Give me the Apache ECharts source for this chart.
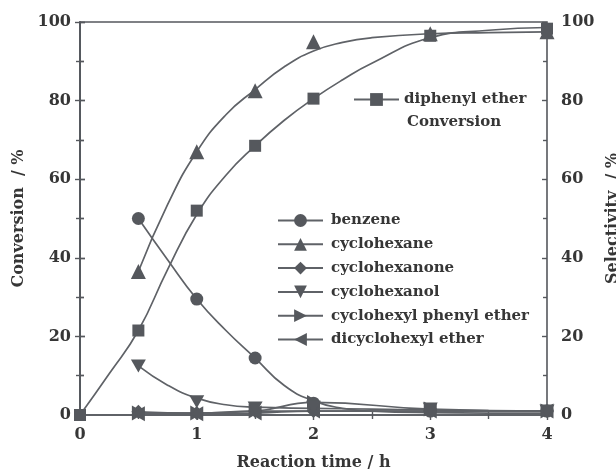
<!DOCTYPE html>
<html>
<head>
<meta charset="utf-8">
<script src="https://cdn.jsdelivr.net/npm/echarts@6/dist/echarts.min.js"></script>
<style>
  html, body { margin: 0; padding: 0; background: #fff; }
  #chart { width: 616px; height: 473px; }
</style>
</head>
<body>
<div id="chart"></div>
<script>
// Measured reaction times (h)
var conversionTime = [0, 0.5, 1, 1.5, 2, 3, 4];
var productTime = [0.5, 1, 1.5, 2, 3, 4];

// Diphenyl ether conversion (%)
var conversion = [0, 21.5, 52, 68.5, 80.5, 96.5, 98.3];

// Product selectivities (%)
var benzene = [50, 29.5, 14.5, 3, 1, 1];
var cyclohexane = [36.5, 67, 82.5, 95, 97, 97.5];
var cyclohexanone = [0.8, 0.5, 1, 1, 1, 1];
var cyclohexanol = [12.5, 3.4, 1.8, 2, 1.5, 1];
var cyclohexylPhenylEther = [0.5, 0.5, 1, 3.2, 1.5, 1];
var dicyclohexylEther = [0.3, 0.3, 0.5, 1, 1, 1];

// Fitted trend curves
var conversionFitTime = [0, 0.25, 0.5, 0.75, 1, 1.25, 1.5, 1.75, 2, 2.25, 2.5, 3, 3.5, 4];
var conversionFit = [0, 10.5, 21.5, 37, 51, 61, 68.5, 75, 80.5, 85.3, 89.5, 96, 97.9, 98.6];
var fitTime = [0.5, 0.75, 1, 1.25, 1.5, 1.75, 2, 2.25, 2.5, 3, 3.5, 4];
var cyclohexaneFit = [36.5, 53.5, 67, 76.4, 82.8, 88.6, 92.6, 94.8, 96, 97, 97.3, 97.5];
var benzeneFit = [50, 39.5, 29.5, 21.5, 14.5, 7.5, 3.6, 1.7, 1, 0.6, 0.5, 0.5];
var cyclohexanolFitTime = [0.5, 0.75, 1, 1.25, 1.5, 2, 2.5, 3, 3.5, 4];
var cyclohexanolFit = [12.5, 7.6, 4.3, 2.6, 2, 1.7, 1.5, 1.3, 1.1, 1];

var yTicks = [0, 20, 40, 60, 80, 100];
var xTicks = [0, 1, 2, 3, 4];

var GRAY = '#55585d';
var LINE = '#5f6267';
var TEXT = '#363636';
var FONT = '"DejaVu Serif", "Liberation Serif", serif';

var TRI_RIGHT = 'path://M0,0 L10,5 L0,10 Z';
var TRI_LEFT = 'path://M10,0 L0,5 L10,10 Z';
var TRI_DOWN = 'path://M0,0 L10,0 L5,10 Z';

function pairs(xs, ys) {
  return xs.map(function (x, i) { return [x, ys[i]]; });
}

// smooth curve; its markers are either drawn on it or by a separate scatter
function curve(name, xs, ys, symbol, size, yIndex, showMarks) {
  return {
    name: name,
    type: 'line',
    yAxisIndex: yIndex,
    data: pairs(xs, ys),
    smooth: 0.5,
    symbol: symbol,
    symbolSize: size,
    showSymbol: showMarks,
    showAllSymbol: true,
    lineStyle: { color: LINE, width: 1.7 },
    itemStyle: { color: GRAY, borderWidth: 0 },
    emphasis: { disabled: true },
    animation: false,
    z: 2
  };
}

function marks(name, xs, ys, symbol, size, yIndex) {
  return {
    name: name,
    type: 'scatter',
    yAxisIndex: yIndex,
    data: pairs(xs, ys),
    symbol: symbol,
    symbolSize: size,
    itemStyle: { color: GRAY, borderWidth: 0, opacity: 1 },
    emphasis: { disabled: true },
    animation: false,
    z: 4
  };
}

var tickLabel = { color: TEXT, fontFamily: FONT, fontWeight: 'bold', fontSize: 16 };
var nameText = { color: TEXT, fontFamily: FONT, fontWeight: 'bold', fontSize: 16 };
var axisLine = { show: true, lineStyle: { color: GRAY, width: 1.6 } };

function valueY(pos, withLabels, inside, name, labelMargin, nameGap) {
  return {
    type: 'value',
    position: pos,
    min: 0, max: 100, interval: 20,
    name: name || '',
    nameLocation: 'middle',
    nameGap: nameGap || 48,
    nameTextStyle: nameText,
    axisLine: inside ? { show: false } : axisLine,
    axisTick: { show: true, inside: inside, length: 5, lineStyle: { color: GRAY, width: 1.4 } },
    minorTick: { show: true, splitNumber: 2, length: 4, lineStyle: { color: GRAY, width: 1.4 } },
    axisLabel: withLabels ? Object.assign({ margin: labelMargin || 8, formatter: function (v) { return yTicks.indexOf(v) >= 0 ? String(v) : ''; } }, tickLabel) : { show: false },
    splitLine: { show: false }
  };
}

function valueX(withLabels, inside, name) {
  return {
    type: 'value',
    position: 'bottom',
    min: 0, max: 4, interval: 1,
    name: name || '',
    nameLocation: 'middle',
    nameGap: 40,
    nameTextStyle: nameText,
    axisLine: inside ? { show: false } : axisLine,
    axisTick: { show: true, inside: inside, length: 5, lineStyle: { color: GRAY, width: 1.4 } },
    minorTick: { show: true, splitNumber: 2, length: 4, lineStyle: { color: GRAY, width: 1.4 } },
    axisLabel: withLabels ? Object.assign({ margin: 12, formatter: function (v) { return xTicks.indexOf(v) >= 0 ? String(v) : ''; } }, tickLabel) : { show: false },
    splitLine: { show: false }
  };
}

var chart = echarts.init(document.getElementById('chart'), null, { renderer: 'canvas' });

chart.setOption({
  backgroundColor: '#ffffff',
  animation: false,
  grid: {
    left: 80, right: 69, top: 22, bottom: 58,
    outerBoundsMode: 'none',
    containLabel: false,
    show: true, borderColor: GRAY, borderWidth: 1.6, backgroundColor: 'transparent'
  },
  xAxis: [
    valueX(true, false, 'Reaction time / h'),
    valueX(false, true)
  ],
  yAxis: [
    valueY('left', true, false, 'Conversion  / %', 9, 48),
    valueY('right', true, false, 'Selectivity  / %', 14, 52),
    valueY('left', false, true),
    valueY('right', false, true)
  ],
  legend: [
    {
      orient: 'vertical',
      left: 272,
      top: 208,
      itemWidth: 45,
      itemHeight: 16,
      itemGap: 8.8,
      selectedMode: false,
      textStyle: { color: TEXT, fontFamily: FONT, fontWeight: 'bold', fontSize: 15, padding: [0, 0, 0, 3] },
      data: ['benzene', 'cyclohexane', 'cyclohexanone', 'cyclohexanol', 'cyclohexyl phenyl ether', 'dicyclohexyl ether']
    },
    {
      orient: 'vertical',
      left: 348,
      top: 87,
      itemWidth: 45,
      itemHeight: 16,
      selectedMode: false,
      textStyle: { color: TEXT, fontFamily: FONT, fontWeight: 'bold', fontSize: 15, padding: [0, 0, 0, 0] },
      data: ['diphenyl ether']
    }
  ],
  graphic: [
    {
      type: 'text',
      left: 407,
      top: 115,
      style: { text: 'Conversion', fill: TEXT, font: 'bold 15px ' + FONT }
    }
  ],
  series: [
    curve('diphenyl ether', conversionFitTime, conversionFit, 'rect', 12, 0, false),
    marks('diphenyl ether points', conversionTime, conversion, 'rect', 12, 0),

    curve('benzene', fitTime, benzeneFit, 'circle', 13, 1, false),
    marks('benzene points', productTime, benzene, 'circle', 13, 1),

    curve('cyclohexane', fitTime, cyclohexaneFit, 'triangle', 15, 1, false),
    marks('cyclohexane points', productTime, cyclohexane, 'triangle', 15, 1),

    curve('cyclohexanone', productTime, cyclohexanone, 'diamond', 14, 1, true),

    curve('cyclohexanol', cyclohexanolFitTime, cyclohexanolFit, TRI_DOWN, [15, 13], 1, false),
    marks('cyclohexanol points', productTime, cyclohexanol, TRI_DOWN, [15, 13], 1),

    curve('cyclohexyl phenyl ether', productTime, cyclohexylPhenylEther, TRI_RIGHT, [13, 15], 1, true),
    curve('dicyclohexyl ether', productTime, dicyclohexylEther, TRI_LEFT, [13, 15], 1, true)
  ]
});
</script>
</body>
</html>
